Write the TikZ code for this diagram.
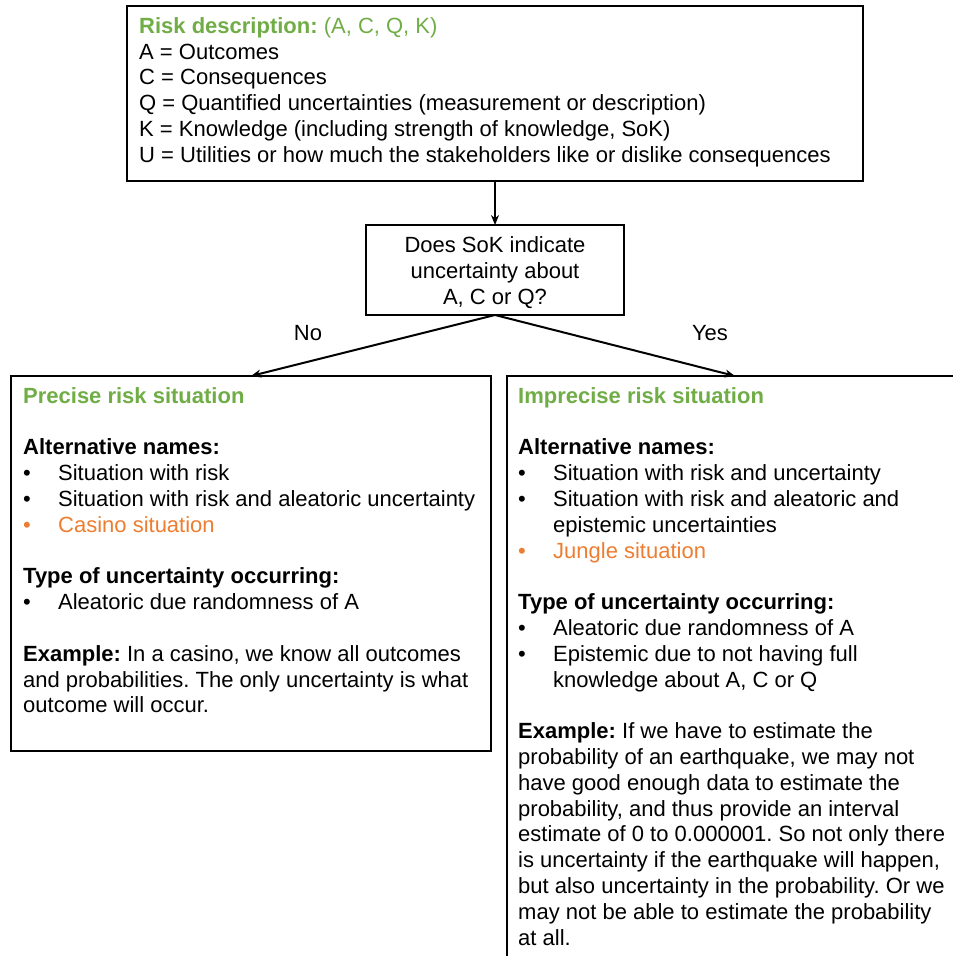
\documentclass[tikz,border=0pt]{standalone}
\usepackage{fontspec}
\setmainfont{Liberation Sans}
\usetikzlibrary{arrows.meta}
\definecolor{titlegreen}{RGB}{112,173,71}
\definecolor{casorange}{RGB}{237,125,49}
\newcommand{\bul}[1]{\makebox[35pt][l]{\textbullet}#1}
\newcommand{\cont}[1]{\hspace*{35pt}#1}
\frenchspacing

\begin{document}
\begin{tikzpicture}[x=1pt,y=-1pt,
    box/.style={draw,line width=2pt,inner sep=0pt,outer sep=0pt,anchor=north west},
    txt/.style={anchor=north west,inner sep=0pt,align=left,font=\fontsize{22}{25.8}\selectfont},
    lbl/.style={inner sep=0pt,font=\fontsize{22}{25.8}\selectfont},
    link/.style={line width=2pt,-{Stealth[length=10pt,width=8pt]}}]

    \useasboundingbox (0,0) rectangle (953,956);
    \clip (0,0) rectangle (953,956);

    % boxes
    \node[box,minimum width=736pt,minimum height=175pt] (desc) at (127,6) {};
    \node[box,anchor=center,minimum width=258pt,minimum height=90pt,align=center,
        font=\fontsize{22}{25.8}\selectfont] (decide) at (495,270)
        {\rule{0pt}{24.2pt}Does SoK indicate\\ \strut uncertainty about\\ \strut A, C or Q?};
    \node[box,minimum width=480pt,minimum height=375pt] (precise) at (11,376) {};
    \node[box,minimum width=456pt,minimum height=640pt] (imprecise) at (507,376) {};

    % texts
    \node[txt] (desctext) at (139,15) {%
        \strut\textcolor{titlegreen}{\textbf{Risk description:} (A, C, Q, K)}\\
        A = Outcomes\\
        C = Consequences\\
        Q = Quantified uncertainties (measurement or description)\\
        K = Knowledge (including strength of knowledge, SoK)\\
        U = Utilities or how much the stakeholders like or dislike consequences};

    \node[txt] (precisetext) at (23,385) {%
        \strut\textcolor{titlegreen}{\textbf{Precise risk situation}}\\
        \mbox{}\\
        \textbf{Alternative names:}\\
        \bul{Situation with risk}\\
        \bul{Situation with risk and aleatoric uncertainty}\\
        \textcolor{casorange}{\bul{Casino situation}}\\
        \mbox{}\\
        \textbf{Type of uncertainty occurring:}\\
        \bul{Aleatoric due randomness of A}\\
        \mbox{}\\
        \textbf{Example:} In a casino, we know all outcomes\\
        and probabilities. The only uncertainty is what\\
        outcome will occur.};

    \node[txt] (imprecisetext) at (518,385) {%
        \strut\textcolor{titlegreen}{\textbf{Imprecise risk situation}}\\
        \mbox{}\\
        \textbf{Alternative names:}\\
        \bul{Situation with risk and uncertainty}\\
        \bul{Situation with risk and aleatoric and}\\
        \cont{epistemic uncertainties}\\
        \textcolor{casorange}{\bul{Jungle situation}}\\
        \mbox{}\\
        \textbf{Type of uncertainty occurring:}\\
        \bul{Aleatoric due randomness of A}\\
        \bul{Epistemic due to not having full}\\
        \cont{knowledge about A, C or Q}\\
        \mbox{}\\
        \textbf{Example:} If we have to estimate the\\
        probability of an earthquake, we may not\\
        have good enough data to estimate the\\
        probability, and thus provide an interval\\
        estimate of 0 to 0.000001. So not only there\\
        is uncertainty if the earthquake will happen,\\
        but also uncertainty in the probability. Or we\\
        may not be able to estimate the probability\\
        at all.};

    % connectors
    \draw[link] (desc.south) -- (decide.north);
    \draw[link] (decide.south) -- (precise.north);
    \draw[link] (decide.south) -- (imprecise.north);
    \node[lbl] (no) at (308,333) {No};
    \node[lbl] (yes) at (710,333) {Yes};
\end{tikzpicture}
\end{document}
